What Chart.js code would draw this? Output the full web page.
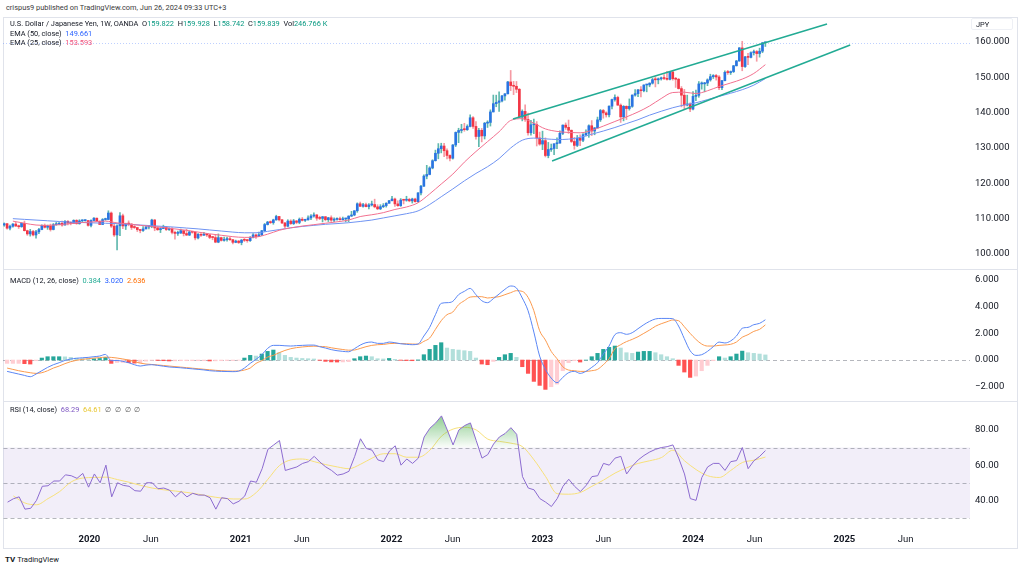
<!DOCTYPE html>
<html>
<head>
<meta charset="utf-8">
<title>USD/JPY 1W</title>
<script src="https://cdn.jsdelivr.net/npm/chart.js@4.4.1/dist/chart.umd.min.js"></script>
<style>
  html, body { margin: 0; padding: 0; background: #fff; }
  body { width: 1024px; height: 570px; position: relative; overflow: hidden;
         font-family: Roboto, "Liberation Sans", sans-serif; color: #131722; }
  .t { position: absolute; white-space: nowrap; line-height: 10px; font-size: 7.4px; }
  canvas { position: absolute; }
  .sep { position: absolute; left: 3px; width: 1015px; height: 1px; background: #e0e3eb; }
  .up { color: #089981; }
</style>
</head>
<body>
<div class="t" style="left:6px;top:3px;color:#3a3a3a">crispus9 published on TradingView.com, Jun 26, 2024 09:33 UTC+3</div>
<div style="position:absolute;left:3px;top:17px;width:1015px;height:532px;border:1px solid #e0e3eb;box-sizing:border-box"></div>
<div class="sep" style="top:269px"></div>
<div class="sep" style="top:401px"></div>
<canvas id="price" width="1015" height="252" style="left:3px;top:17px"></canvas>
<canvas id="macd" width="1015" height="131" style="left:3px;top:270px"></canvas>
<canvas id="rsi" width="1015" height="147" style="left:3px;top:402px"></canvas>

<div class="t" style="left:10px;top:19px">U.S. Dollar / Japanese Yen, 1W, OANDA&nbsp;&nbsp;O<span class="up">159.822</span>&nbsp;&nbsp;H<span class="up">159.928</span>&nbsp;&nbsp;L<span class="up">158.742</span>&nbsp;&nbsp;C<span class="up">159.839</span>&nbsp;&nbsp;Vol<span class="up">246.766 K</span></div>
<div class="t" style="left:10px;top:29px">EMA (50, close)&nbsp;&nbsp;<span style="color:#2962ff">149.661</span></div>
<div class="t" style="left:10px;top:38px">EMA (25, close)&nbsp;&nbsp;<span style="color:#f0507a">153.593</span></div>
<div class="t" style="left:10px;top:276px">MACD (12, 26, close)&nbsp;&nbsp;<span style="color:#22ab94">0.384</span>&nbsp;&nbsp;<span style="color:#2962ff">3.020</span>&nbsp;&nbsp;<span style="color:#ff6d00">2.636</span></div>
<div class="t" style="left:10px;top:405px">RSI (14, close)&nbsp;&nbsp;<span style="color:#7e57c2">68.29</span>&nbsp;&nbsp;<span style="color:#e8c62e">64.61</span>&nbsp;&nbsp;<span style="color:#555">&#8709;&nbsp;&nbsp;&#8709;&nbsp;&nbsp;&#8709;&nbsp;&nbsp;&#8709;</span></div>
<div class="t" style="left:971px;top:18px;width:42px;height:12px;border:1px solid #eef0f5;border-radius:2px;padding-left:4px;box-sizing:border-box;line-height:11px">JPY</div>
<div class="t" style="left:5px;top:555px;font-size:7.6px"><b style="font-size:8px">TV</b>&nbsp;TradingView</div>

<script>
// weekly candles, week 0 = week of 10 Jun 2019
const firstOpen = 108.20;
const closes = [
  108.57,107.31,107.85,108.47,107.91,107.72,108.69,106.59,105.68,106.36,105.39,106.28,106.92,108.09,107.56,107.93,106.93,108.28,108.44,108.68,108.20,109.26,108.78,108.67,109.51,108.57,109.37,109.43,109.45,
  108.10,109.48,110.14,109.28,108.35,109.75,109.77,111.60,107.89,105.39,107.98,110.81,107.94,108.49,108.46,107.52,107.49,106.91,106.65,107.09,107.64,107.78,109.61,107.38,106.87,107.20,107.52,106.93,107.01,106.12,105.83,105.93,106.60,105.79,105.36,106.24,106.15,104.55,105.59,105.31,105.61,105.40,104.70,104.65,103.35,104.62,103.85,104.07,104.15,104.04,103.30,103.65,
  103.24,103.94,103.87,103.78,104.69,105.39,104.95,105.45,106.58,108.33,109.03,108.88,109.65,110.62,109.67,108.78,107.88,109.31,108.60,109.36,108.94,109.84,109.52,109.67,110.21,110.75,111.05,110.14,110.07,110.55,109.72,110.25,109.58,109.79,109.84,109.71,109.93,109.93,110.73,111.05,112.24,114.21,113.50,113.95,113.41,113.88,114.00,113.35,112.78,113.39,113.70,114.35,115.08,
  115.56,114.18,113.67,115.26,115.21,115.45,115.04,115.56,114.82,117.29,119.18,122.04,122.51,124.35,126.41,128.51,129.80,130.56,129.23,127.89,127.11,130.86,134.41,134.96,135.21,135.18,136.11,138.56,136.11,133.26,135.01,133.42,137.03,137.24,140.21,142.55,142.91,143.32,144.74,145.33,148.70,147.66,147.47,146.62,138.76,140.36,138.10,134.31,136.58,136.66,132.84,131.11,
  132.09,127.87,129.58,129.85,131.20,131.38,134.15,136.48,135.84,135.02,131.85,130.74,132.76,132.19,133.78,134.16,136.30,134.81,135.69,137.97,140.61,139.93,139.40,141.84,143.71,144.31,142.13,138.81,141.80,141.16,141.79,144.98,145.39,146.45,146.21,147.84,147.85,148.35,149.35,149.30,149.57,149.86,149.66,149.43,151.52,149.61,149.46,146.82,144.94,142.17,142.43,141.03,
  144.61,144.91,148.14,148.16,148.38,149.28,150.20,150.51,150.10,147.06,149.06,151.42,151.35,151.62,153.27,154.64,158.33,153.05,155.79,155.65,156.98,157.29,156.74,157.40,159.79,159.84
];
const highs = [
  108.80,108.65,108.16,108.64,108.99,108.17,108.83,109.32,106.73,106.98,106.73,106.69,107.23,108.26,108.48,108.18,108.47,108.63,108.94,108.89,109.29,109.49,109.48,109.11,109.68,109.73,109.71,109.68,109.69,
  109.56,109.67,110.29,110.18,109.36,110.02,110.14,112.23,111.90,108.52,108.28,111.71,111.30,108.72,109.38,108.60,108.05,107.49,106.96,107.76,107.99,108.08,109.85,109.80,107.63,107.44,108.16,107.79,107.41,107.44,106.46,106.47,107.05,106.64,107.05,106.55,106.38,106.23,105.79,105.81,106.11,105.75,105.54,104.97,105.35,105.68,104.76,104.76,104.75,104.76,104.14,103.92,
  103.84,104.10,104.40,104.09,104.94,105.77,105.63,106.22,106.69,108.64,109.24,109.36,109.85,110.97,110.68,109.78,108.94,109.70,109.69,109.78,109.46,110.19,110.33,109.85,110.82,111.12,111.66,111.17,110.70,110.60,110.59,110.37,110.80,110.25,110.26,110.42,110.45,110.07,110.79,112.08,112.25,114.47,114.70,114.31,114.44,114.30,114.97,115.52,113.95,113.96,114.26,114.52,115.20,
  116.35,115.84,115.06,115.68,115.38,116.34,115.78,115.80,115.80,117.35,119.40,122.43,125.09,124.69,126.68,129.40,131.25,131.35,131.34,129.77,128.09,130.99,134.55,135.59,136.71,137.00,136.57,139.39,138.88,137.46,135.58,135.54,137.23,137.71,140.80,144.99,144.96,145.90,144.93,145.43,148.86,151.95,148.85,148.83,146.84,140.80,142.25,139.89,137.86,138.18,137.48,134.50,
  134.77,132.87,131.58,131.12,131.20,132.90,134.88,136.53,137.10,137.91,135.11,133.00,133.56,133.76,134.06,135.13,136.56,137.77,135.78,138.75,140.91,140.93,140.24,141.92,143.87,145.07,144.67,142.49,142.00,141.96,143.89,145.04,146.56,146.64,147.38,147.87,147.95,148.46,149.71,150.16,149.83,150.08,150.77,151.72,151.59,151.91,149.99,149.69,147.39,146.59,144.96,142.82,
  145.98,146.41,148.81,148.70,148.58,149.57,150.89,150.77,150.83,150.48,149.16,151.86,151.97,151.80,153.39,154.79,158.44,160.21,155.95,156.79,157.20,157.72,157.60,158.26,159.84,159.93
];
const lows = [
  107.85,107.05,106.78,107.58,107.81,107.21,107.56,106.51,105.27,105.05,105.10,104.45,105.74,106.85,107.34,106.96,106.48,106.81,108.13,108.25,107.89,108.18,108.25,108.24,108.61,108.42,108.43,109.17,109.30,
  107.85,107.65,109.37,109.19,108.30,108.31,109.54,109.71,107.50,105.00,101.18,105.15,107.17,106.92,107.98,106.93,107.22,106.36,105.99,106.42,107.07,107.09,107.43,106.58,106.67,106.06,107.19,106.64,106.66,105.68,104.19,105.29,105.81,105.10,105.20,105.20,105.88,104.00,104.28,104.94,105.28,104.94,104.34,104.02,103.18,103.18,103.65,103.66,103.66,103.82,102.87,103.18,
  102.96,102.59,103.52,103.33,103.55,104.53,104.41,104.92,105.19,106.37,108.20,108.61,108.41,109.57,109.38,108.61,107.48,107.69,108.34,108.35,108.56,108.56,109.33,109.19,109.57,109.71,110.43,109.53,109.72,109.07,109.36,109.18,109.20,109.12,109.60,109.59,109.59,109.11,109.11,110.60,110.82,111.80,113.41,113.26,113.29,112.73,113.59,113.06,112.53,112.55,113.13,113.27,114.40,
  115.05,113.48,113.47,113.47,114.16,114.94,114.78,114.41,114.65,114.66,116.75,119.12,121.28,122.40,124.10,126.29,126.94,128.62,127.52,126.93,126.36,126.86,130.41,131.50,134.27,134.74,134.98,135.99,135.57,132.50,130.40,131.73,132.55,135.81,136.21,140.20,141.68,140.35,143.07,143.53,145.30,146.24,145.11,145.68,138.48,137.68,137.50,133.63,133.62,134.06,130.57,130.77,
  129.52,127.46,127.22,129.03,128.08,129.80,131.50,133.80,135.26,134.12,131.55,129.64,130.40,130.63,131.77,133.45,133.02,133.50,133.74,135.65,137.50,138.43,138.76,138.83,141.05,143.23,142.08,137.24,137.68,138.06,140.72,141.52,144.68,144.55,144.45,145.90,145.90,147.33,148.10,147.29,148.16,149.22,149.32,149.19,149.30,149.20,147.15,146.67,141.64,140.97,141.90,140.25,
  140.80,143.42,144.35,146.65,145.90,147.63,148.92,149.68,149.21,146.48,146.53,148.96,150.83,150.81,151.37,153.21,154.54,151.86,152.80,153.60,155.48,156.32,154.55,155.72,156.97,158.74
];

// moving averages, read every 4 weeks starting at week 3
const ema50 = [
  110.0,109.8,109.6,109.4,109.2,109.0,108.9,108.8,108.7,108.6,
  108.4,108.2,108.0,107.8,107.6,107.35,107.1,106.8,106.5,106.2,
  106.0,106.0,106.4,106.9,107.4,107.8,108.1,108.4,108.6,108.85,
  109.2,109.6,110.2,110.8,111.4,112.2,114.0,116.2,118.4,120.7,
  122.8,124.7,127.0,130.0,132.2,132.8,132.6,132.4,132.5,133.0,
  133.9,134.8,135.8,136.9,138.0,139.3,140.4,141.4,142.2,142.8,
  143.7,144.6,145.5,146.5,147.8,149.66
];
const ema25 = [
  109.3,108.7,108.2,108.1,108.3,108.6,108.9,109.1,109.3,108.8,
  108.5,108.1,107.8,107.5,107.1,106.7,106.2,105.7,105.3,104.9,
  104.7,104.8,105.6,106.7,107.4,107.9,108.3,108.7,109.1,109.6,
  110.6,111.1,111.7,112.6,113.3,114.5,117.0,119.8,122.6,126.0,
  129.0,131.8,134.6,137.8,138.3,137.0,135.4,134.7,134.4,134.3,
  135.0,136.2,137.5,138.8,140.2,141.9,144.0,145.7,145.8,145.4,
  146.2,147.4,148.4,149.5,151.1,153.59
];

// MACD (12, 26) and signal, read every 2 weeks starting at week 1
const macdLine = [
  -0.85,-0.95,-1.05,-1.15,-1.25,-1.05,-0.8,-0.55,-0.35,-0.2,
  -0.03,0.08,0.13,0.17,0.2,0.25,0.3,0.42,-0.05,-0.03,
  -0.1,-0.2,-0.35,-0.45,-0.38,-0.35,-0.4,-0.46,-0.52,-0.55,
  -0.58,-0.62,-0.66,-0.7,-0.74,-0.8,-0.83,-0.85,-0.86,-0.87,
  -0.83,-0.6,-0.25,0.05,0.4,0.87,1.1,1.1,1.07,1.05,
  1.08,1.1,1.12,1.12,1.0,0.9,0.78,0.7,0.65,0.62,
  0.85,1.12,1.3,1.35,1.25,1.25,1.35,1.3,1.22,1.18,
  1.15,1.2,1.8,2.45,3.4,4.25,4.3,4.4,4.9,5.15,
  5.37,4.9,4.45,4.3,4.6,4.95,5.3,5.55,5.4,4.65,
  3.7,2.1,0.3,-0.7,-1.35,-1.7,-1.3,-0.95,-0.85,-1.0,
  -0.85,-0.55,-0.2,0.45,1.05,1.9,2.05,1.93,2.05,2.35,
  2.65,2.9,3.08,3.12,3.12,3.1,2.55,1.6,0.7,0.35,
  0.4,0.65,1.0,1.35,1.28,1.43,1.8,2.38,2.45,2.65,
  2.75,3.02
];
const signalLine = [
  -0.6,-0.7,-0.8,-0.88,-0.95,-1.0,-0.95,-0.8,-0.6,-0.45,
  -0.27,-0.12,-0.02,0.05,0.1,0.15,0.18,0.22,0.2,0.15,
  0.08,0.0,-0.12,-0.23,-0.3,-0.33,-0.37,-0.41,-0.45,-0.49,
  -0.53,-0.57,-0.61,-0.65,-0.69,-0.73,-0.77,-0.8,-0.82,-0.83,
  -0.82,-0.75,-0.6,-0.25,-0.05,0.22,0.35,0.55,0.72,0.85,
  0.93,0.98,1.02,1.04,1.02,1.0,0.92,0.85,0.79,0.74,
  0.75,0.87,1.0,1.1,1.15,1.17,1.23,1.25,1.24,1.22,
  1.2,1.19,1.4,1.65,2.3,2.95,3.4,3.6,4.15,4.45,
  4.72,4.75,4.75,4.65,4.7,4.75,4.9,5.05,5.2,5.15,
  4.7,3.7,2.2,1.5,0.65,0.1,-0.5,-0.75,-0.8,-0.85,
  -0.85,-0.8,-0.7,-0.35,0.1,0.85,1.15,1.38,1.55,1.75,
  2.0,2.25,2.53,2.72,2.87,3.0,2.95,2.5,2.0,1.55,
  1.2,1.05,1.05,1.1,1.13,1.18,1.35,1.71,1.9,2.15,
  2.3,2.636
];

// RSI (14) every 2 weeks from week 1, its moving average every 4 weeks from week 3
const rsi = [
  39,40.9,42,35,35.5,40,48,48.3,51,51,
  54.5,54,52.5,55.3,47.5,55,50,60,42,50,
  48.5,48,45.5,45.2,50,50,46.6,47,45.8,42,
  45,42,44,43,43,41.5,35,41.5,41,38,
  39.5,42.5,51,50.3,58,69,71.5,74,57,58,
  59,61,62,65,61.7,59,57,54.3,55,56.5,
  65,75,69.5,68.5,63,62,68,71,60,63.5,
  61,64,76,81,84,88,80,71.5,80,82.5,
  84,74,64,66,72,76,78,81.3,77.5,53.5,
  47,46,41,39,36.5,41,48,52,48,45,
  48.5,53.5,54,61,60,64,65,55,59.5,63,
  65.5,67.5,69,70,70.5,71.5,64,55,41,40,
  53,59,61,61,57,62,62.6,70,58,62.5,
  65,68.29
];
const rsiMa = [
  42.5,38.5,37.5,41,45,50.5,52.7,53,53.2,51.8,
  50.3,48.5,47,46,45.3,44.5,43.5,42.3,41.3,40.8,
  40.8,44.5,52,59.8,63,63.5,62,60.3,59,58,
  60.5,64,66.5,66.5,64.5,64.5,68.5,76.5,80.5,81.5,
  80,74.8,73.5,72.5,70.5,63,53.5,43.8,43.5,44.5,
  48,51.5,55.5,58.5,61,62.5,64.3,68.5,62.5,57.5,
  54,53,57,61.5,62.8,64.61
];

// channel lines drawn on the chart: [week, price]
const channelUpper = [[175.8, 138.2], [284.3, 165.1]];
const channelLower = [[189.3, 126.3], [292.3, 159.15]];

const priceTicks = [100, 110, 120, 130, 140, 150, 160];
const macdTicks = [-2, 0, 2, 4, 6];
const rsiTicks = [40, 60, 80];
const xTickLabels = ['2020', 'Jun', '2021', 'Jun', '2022', 'Jun', '2023', 'Jun', '2024', 'Jun', '2025', 'Jun'];
const xTickDates = ['2020-01-01', '2020-05-29', '2021-01-01', '2021-05-29', '2022-01-01', '2022-05-29',
                    '2023-01-01', '2023-05-29', '2024-01-01', '2024-05-29', '2025-01-01', '2025-05-29'];

const startDay = Date.UTC(2019, 5, 10);
const weekOf = d => (Date.parse(d) - startDay) / 6048e5;
const xMin = -0.41, xMax = 333.7;
const FONT = 'Roboto';

const opens = closes.map((c, i) => i === 0 ? firstOpen : closes[i - 1]);
const isUp = closes.map((c, i) => c >= opens[i]);
const pts = (arr, first, step) => arr.map((v, k) => ({ x: first + step * k, y: v }));

const macdHist = macdLine.map((m, k) => +(m - signalLine[k]).toFixed(3));
const histColors = macdHist.map((h, k) => {
  const prev = k === 0 ? h : macdHist[k - 1];
  if (h >= 0) return h >= prev ? '#26a69a' : '#b2dfdb';
  return h < prev ? '#ff5252' : '#ffcdd2';
});

function xAxis(show) {
  return {
    type: 'linear', min: xMin, max: xMax, offset: false, display: show,
    grid: { display: false, drawTicks: false }, border: { display: false },
    afterBuildTicks: s => { s.ticks = xTickDates.map(d => ({ value: weekOf(d) })); },
    afterFit: s => { if (show) s.height = 21; s.paddingLeft = 0; s.paddingRight = 0; },
    ticks: {
      autoSkip: false, maxRotation: 0, padding: 6, color: '#131722',
      font: c => ({ family: FONT, size: 9.5, weight: /^\d/.test(xTickLabels[c.index] || '') ? 'bold' : 'normal' }),
      callback: (v, i) => xTickLabels[i]
    }
  };
}

function yAxis(ticks, digits, min, max) {
  return {
    position: 'right', min: min, max: max,
    grid: { display: false, drawTicks: false }, border: { display: false },
    afterBuildTicks: s => { s.ticks = ticks.map(v => ({ value: v })); },
    afterFit: s => { s.width = 48; s.paddingTop = 0; s.paddingBottom = 0; },
    ticks: {
      padding: 5, color: '#131722', font: { family: FONT, size: 9.5 },
      callback: v => v.toFixed(digits).replace('-', '\u2212')
    }
  };
}

const baseOptions = (show, yCfg) => ({
  responsive: false, animation: false, events: [], devicePixelRatio: 1,
  layout: { padding: 0 },
  plugins: { legend: { display: false }, tooltip: { enabled: false } },
  scales: { x: xAxis(show), y: yCfg }
});

function hLine(ctx, area, y, color, dash) {
  ctx.save();
  ctx.strokeStyle = color;
  ctx.lineWidth = 1;
  ctx.setLineDash(dash);
  ctx.beginPath();
  ctx.moveTo(area.left, Math.round(y) + 0.5);
  ctx.lineTo(area.right, Math.round(y) + 0.5);
  ctx.stroke();
  ctx.restore();
}

// ---------- price pane ----------
new Chart(document.getElementById('price'), {
  type: 'bar',
  data: {
    datasets: [
      {
        type: 'bar', order: 5, grouped: false, barThickness: 1,
        data: closes.map((c, i) => ({ x: i, y: [Math.min(lows[i], opens[i], c), Math.max(highs[i], opens[i], c)] })),
        backgroundColor: isUp.map(u => u ? '#5fb8ad' : '#f59aa3')
      },
      {
        type: 'bar', order: 4, grouped: false, barThickness: 2, minBarLength: 1,
        data: closes.map((c, i) => ({ x: i, y: [opens[i], c] })),
        backgroundColor: isUp.map(u => u ? '#2a74e2' : '#f23645')
      },
      {
        type: 'line', order: 3, data: pts(ema50, 3, 4), borderColor: '#6f93f2', borderWidth: 1,
        pointRadius: 0, cubicInterpolationMode: 'monotone'
      },
      {
        type: 'line', order: 2, data: pts(ema25, 3, 4), borderColor: '#f2708f', borderWidth: 1,
        pointRadius: 0, cubicInterpolationMode: 'monotone'
      },
      {
        type: 'line', order: 1, data: channelUpper.map(p => ({ x: p[0], y: p[1] })),
        borderColor: '#22ab94', borderWidth: 1.5, pointRadius: 0
      },
      {
        type: 'line', order: 0, data: channelLower.map(p => ({ x: p[0], y: p[1] })),
        borderColor: '#22ab94', borderWidth: 1.5, pointRadius: 0
      }
    ]
  },
  options: baseOptions(false, yAxis(priceTicks, 3, 95.75, 167.08)),
  plugins: [{
    id: 'lastPrice',
    beforeDatasetsDraw(chart) {
      const y = chart.scales.y.getPixelForValue(closes[closes.length - 1]);
      hLine(chart.ctx, chart.chartArea, y, 'rgba(41,98,255,0.3)', [1, 2]);
    }
  }]
});

// ---------- MACD pane ----------
new Chart(document.getElementById('macd'), {
  type: 'bar',
  data: {
    datasets: [
      {
        type: 'bar', order: 3, grouped: false, barThickness: 3.5,
        data: pts(macdHist, 1, 2), backgroundColor: histColors
      },
      {
        type: 'line', order: 2, data: pts(signalLine, 1, 2), borderColor: '#fb9a4e', borderWidth: 1,
        pointRadius: 0, cubicInterpolationMode: 'monotone'
      },
      {
        type: 'line', order: 1, data: pts(macdLine, 1, 2), borderColor: '#5a86f5', borderWidth: 1,
        pointRadius: 0, cubicInterpolationMode: 'monotone'
      }
    ]
  },
  options: baseOptions(false, yAxis(macdTicks, 3, -3.07, 6.75)),
  plugins: [{
    id: 'zeroLine',
    beforeDatasetsDraw(chart) {
      hLine(chart.ctx, chart.chartArea, chart.scales.y.getPixelForValue(0), 'rgba(120,123,134,0.55)', [4, 3]);
    }
  }]
});

// ---------- RSI pane ----------
const rsiChart = new Chart(document.getElementById('rsi'), {
  type: 'line',
  data: {
    datasets: [
      {
        order: 1, data: pts(rsi, 1, 2), borderColor: '#8c6bd0', borderWidth: 1, pointRadius: 0,
        fill: { target: { value: 70 }, above: 'rgba(76,175,80,0.4)', below: 'rgba(0,0,0,0)' }
      },
      {
        order: 2, data: pts(rsiMa, 3, 4), borderColor: '#f7e07a', borderWidth: 1, pointRadius: 0,
        cubicInterpolationMode: 'monotone'
      }
    ]
  },
  options: baseOptions(true, yAxis(rsiTicks, 2, 24.3, 95.6)),
  plugins: [{
    id: 'rsiBand',
    beforeDatasetsDraw(chart) {
      const { ctx, chartArea: a } = chart;
      const ys = chart.scales.y;
      const top = ys.getPixelForValue(70), bot = ys.getPixelForValue(30);
      ctx.save();
      ctx.fillStyle = 'rgba(126,87,194,0.1)';
      ctx.fillRect(a.left, top, a.right - a.left, bot - top);
      ctx.restore();
      [70, 50, 30].forEach(v => hLine(ctx, a, ys.getPixelForValue(v), 'rgba(120,123,134,0.55)', [4, 3]));
    }
  }]
});

const ys = rsiChart.scales.y;
const grad = rsiChart.ctx.createLinearGradient(0, ys.getPixelForValue(90), 0, ys.getPixelForValue(70));
grad.addColorStop(0, 'rgba(76,175,80,0.7)');
grad.addColorStop(1, 'rgba(76,175,80,0.03)');
rsiChart.data.datasets[0].fill = { target: { value: 70 }, above: grad, below: 'rgba(0,0,0,0)' };
rsiChart.update('none');
</script>
</body>
</html>
